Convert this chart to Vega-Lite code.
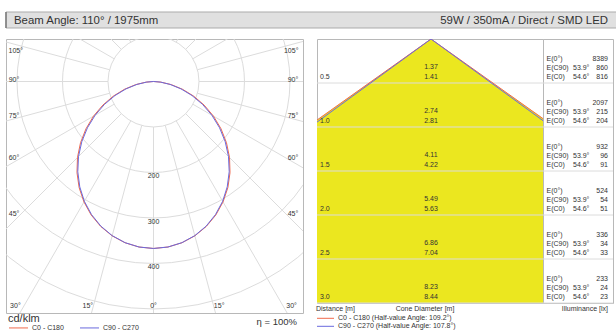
{
  "$schema": "https://vega.github.io/schema/vega-lite/v6.json",
  "background": "white",
  "padding": {"left": 5, "top": 11, "right": 0, "bottom": 0},
  "bounds": "flush",
  "spacing": 11,
  "resolve": {"scale": {"color": "independent"}, "legend": {"color": "independent"}},
  "config": {
    "view": {"stroke": "#b8b8b8", "strokeWidth": 1},
    "axis": {"disable": true},
    "text": {"font": "Liberation Sans", "fontSize": 7, "color": "#333333"},
    "legend": {"labelFont": "Liberation Sans", "titleFont": "Liberation Sans", "labelColor": "#333333", "titleColor": "#333333", "padding": 0, "offset": 0}
  },
  "datasets": {
    "rings": [{"r": 100}, {"r": 200}, {"r": 300}, {"r": 400}, {"r": 500}],
    "spokes": [{"a": -165}, {"a": -150}, {"a": -135}, {"a": -120}, {"a": -105}, {"a": -90}, {"a": -75}, {"a": -60}, {"a": -45}, {"a": -30}, {"a": -15}, {"a": 0}, {"a": 15}, {"a": 30}, {"a": 45}, {"a": 60}, {"a": 75}, {"a": 90}, {"a": 105}, {"a": 120}, {"a": 135}, {"a": 150}, {"a": 165}, {"a": 180}],
    "radlab": [{"r": 200}, {"r": 300}, {"r": 400}],
    "anglab": [
      {"t": "105°", "a": -102.5, "r": 310}, {"t": "90°", "a": -90.5, "r": 306.6}, {"t": "75°", "a": -76.1, "r": 315.8}, {"t": "60°", "a": -61.4, "r": 349.3}, {"t": "45°", "a": -46.4, "r": 423.3}, {"t": "30°", "a": -31.6, "r": 579.2}, {"t": "15°", "a": -16.3, "r": 514.2}, {"t": "0°", "a": 0, "r": 493.4},
      {"t": "15°", "a": 16.3, "r": 514.2}, {"t": "30°", "a": 31.6, "r": 579.2}, {"t": "45°", "a": 46.4, "r": 423.3}, {"t": "60°", "a": 61.4, "r": 349.3}, {"t": "75°", "a": 76.1, "r": 315.8}, {"t": "90°", "a": 90.5, "r": 306.6}, {"t": "105°", "a": 102.5, "r": 310}
    ],
    "ldc": [
      {"g": -90, "c0": 0, "c90": 0}, {"g": -85, "c0": 16.6, "c90": 15.0}, {"g": -80, "c0": 39.7, "c90": 37.0}, {"g": -75, "c0": 66.0, "c90": 62.5}, {"g": -70, "c0": 93.9, "c90": 90.0}, {"g": -65, "c0": 122.9, "c90": 118.8}, {"g": -60, "c0": 152.2, "c90": 148.0}, {"g": -55, "c0": 181.2, "c90": 177.2}, {"g": -50, "c0": 209.4, "c90": 205.7}, {"g": -45, "c0": 236.3, "c90": 233.1}, {"g": -40, "c0": 261.6, "c90": 258.9}, {"g": -35, "c0": 284.9, "c90": 282.6}, {"g": -30, "c0": 305.7, "c90": 304.0}, {"g": -25, "c0": 323.9, "c90": 322.6}, {"g": -20, "c0": 339.1, "c90": 338.3}, {"g": -15, "c0": 351.2, "c90": 350.7}, {"g": -10, "c0": 359.9, "c90": 359.7}, {"g": -5, "c0": 365.2, "c90": 365.2},
      {"g": 0, "c0": 367, "c90": 367},
      {"g": 5, "c0": 365.2, "c90": 365.2}, {"g": 10, "c0": 359.9, "c90": 359.7}, {"g": 15, "c0": 351.2, "c90": 350.7}, {"g": 20, "c0": 339.1, "c90": 338.3}, {"g": 25, "c0": 323.9, "c90": 322.6}, {"g": 30, "c0": 305.7, "c90": 304.0}, {"g": 35, "c0": 284.9, "c90": 282.6}, {"g": 40, "c0": 261.6, "c90": 258.9}, {"g": 45, "c0": 236.3, "c90": 233.1}, {"g": 50, "c0": 209.4, "c90": 205.7}, {"g": 55, "c0": 181.2, "c90": 177.2}, {"g": 60, "c0": 152.2, "c90": 148.0}, {"g": 65, "c0": 122.9, "c90": 118.8}, {"g": 70, "c0": 93.9, "c90": 90.0}, {"g": 75, "c0": 66.0, "c90": 62.5}, {"g": 80, "c0": 39.7, "c90": 37.0}, {"g": 85, "c0": 16.6, "c90": 15.0}, {"g": 90, "c0": 0, "c90": 0}
    ],
    "cone": [
      {"d": 0.5, "c90": 1.37, "c0": 1.41, "e0": 8389, "e90": 860, "ec0": 816},
      {"d": 1.0, "c90": 2.74, "c0": 2.81, "e0": 2097, "e90": 215, "ec0": 204},
      {"d": 1.5, "c90": 4.11, "c0": 4.22, "e0": 932, "e90": 96, "ec0": 91},
      {"d": 2.0, "c90": 5.49, "c0": 5.63, "e0": 524, "e90": 54, "ec0": 51},
      {"d": 2.5, "c90": 6.86, "c0": 7.04, "e0": 336, "e90": 34, "ec0": 33},
      {"d": 3.0, "c90": 8.23, "c0": 8.44, "e0": 233, "e90": 24, "ec0": 23}
    ],
    "edges": [
      {"s": "c0", "x": -4.22, "d": 3}, {"s": "c0", "x": 0, "d": 0}, {"s": "c0", "x": 4.22, "d": 3},
      {"s": "c90", "x": -4.115, "d": 3}, {"s": "c90", "x": 0, "d": 0}, {"s": "c90", "x": 4.115, "d": 3}
    ]
  },
  "vconcat": [
    {
      "width": 611,
      "height": 16,
      "view": {"stroke": null},
      "data": {"values": [{"left": "Beam Angle: 110° / 1975mm", "right": "59W / 350mA / Direct /  SMD LED"}]},
      "layer": [
        {
          "mark": {"type": "rect", "fill": "#e0e0e0", "stroke": "#ababab", "strokeWidth": 1},
          "encoding": {
            "x": {"datum": 0, "type": "quantitative", "scale": {"domain": [0, 1], "nice": false, "zero": false}},
            "x2": {"datum": 1},
            "y": {"datum": 0, "type": "quantitative", "scale": {"domain": [0, 1], "nice": false, "zero": false}},
            "y2": {"datum": 1}
          }
        },
        {
          "mark": {"type": "rule", "color": "#7a7a7a", "strokeWidth": 1.5},
          "encoding": {"x": {"datum": 0, "type": "quantitative"}, "y": {"datum": 0, "type": "quantitative"}, "y2": {"datum": 1}}
        },
        {
          "mark": {"type": "text", "align": "left", "dx": 8, "dy": 0.5, "fontSize": 11.4, "color": "#333333"},
          "encoding": {"x": {"datum": 0, "type": "quantitative"}, "y": {"datum": 0.5, "type": "quantitative"}, "text": {"field": "left"}}
        },
        {
          "mark": {"type": "text", "align": "right", "dx": -9, "dy": 0.5, "fontSize": 11.4, "color": "#333333"},
          "encoding": {"x": {"datum": 1, "type": "quantitative"}, "y": {"datum": 0.5, "type": "quantitative"}, "text": {"field": "right"}}
        }
      ]
    },
    {
      "hconcat": [
        {
          "width": 297,
          "height": 274,
          "layer": [
            {
              "data": {"name": "rings"},
              "mark": {"type": "point", "shape": "circle", "filled": false, "color": "#dcdcdc", "strokeWidth": 1, "opacity": 1, "clip": true},
              "encoding": {
                "x": {"datum": 0, "type": "quantitative", "scale": {"domain": [-324.2, 328.6], "nice": false, "zero": false}},
                "y": {"datum": 0, "type": "quantitative", "scale": {"domain": [-93.4, 508.8], "nice": false, "zero": false, "reverse": true}},
                "size": {"field": "r", "type": "quantitative", "scale": {"type": "pow", "exponent": 2, "domain": [0, 100], "range": [0, 8281]}, "legend": null}
              }
            },
            {
              "data": {"name": "spokes"},
              "transform": [
                {"calculate": "100*sin(datum.a*PI/180)", "as": "x1"},
                {"calculate": "100*cos(datum.a*PI/180)", "as": "y1"},
                {"calculate": "900*sin(datum.a*PI/180)", "as": "x2"},
                {"calculate": "900*cos(datum.a*PI/180)", "as": "y2"}
              ],
              "mark": {"type": "rule", "color": "#dcdcdc", "strokeWidth": 1, "clip": true},
              "encoding": {
                "x": {"field": "x1", "type": "quantitative"},
                "y": {"field": "y1", "type": "quantitative"},
                "x2": {"field": "x2"},
                "y2": {"field": "y2"}
              }
            },
            {
              "data": {"name": "ldc"},
              "transform": [
                {"fold": ["c0", "c90"], "as": ["s", "i"]},
                {"calculate": "datum.i*sin(datum.g*PI/180)", "as": "px"},
                {"calculate": "datum.i*cos(datum.g*PI/180)", "as": "py"}
              ],
              "mark": {"type": "line", "strokeWidth": 1, "clip": true},
              "encoding": {
                "x": {"field": "px", "type": "quantitative"},
                "y": {"field": "py", "type": "quantitative"},
                "order": {"field": "g", "type": "quantitative"},
                "color": {
                  "field": "s", "type": "nominal",
                  "scale": {"domain": ["c0", "c90"], "range": ["#f0694c", "#6a6ade"]},
                  "legend": {
                    "orient": "none", "legendX": 9, "legendY": 285.2, "direction": "horizontal",
                    "title": null,
                    "symbolType": "M-4.75,0L4.75,0", "symbolSize": 16, "symbolStrokeWidth": 1,
                    "labelFontSize": 7, "labelOffset": 10, "columnPadding": 14,
                    "labelExpr": "datum.label == 'c0' ? 'C0 - C180' : 'C90 - C270'"
                  }
                }
              }
            },
            {
              "data": {"name": "radlab"},
              "mark": {"type": "text", "dy": 4},
              "encoding": {
                "x": {"datum": 0, "type": "quantitative"},
                "y": {"field": "r", "type": "quantitative"},
                "text": {"field": "r"}
              }
            },
            {
              "data": {"name": "anglab"},
              "transform": [
                {"calculate": "datum.r*sin(datum.a*PI/180)", "as": "lx"},
                {"calculate": "datum.r*cos(datum.a*PI/180)", "as": "ly"}
              ],
              "mark": {"type": "text"},
              "encoding": {
                "x": {"field": "lx", "type": "quantitative"},
                "y": {"field": "ly", "type": "quantitative"},
                "text": {"field": "t"}
              }
            },
            {
              "data": {"values": [{}]},
              "mark": {"type": "text", "align": "left", "dx": 2, "dy": 5.5, "fontSize": 11},
              "encoding": {
                "x": {"datum": -324.2, "type": "quantitative"},
                "y": {"datum": 508.8, "type": "quantitative"},
                "text": {"value": "cd/klm"}
              }
            },
            {
              "data": {"values": [{}]},
              "mark": {"type": "text", "align": "right", "dx": -6, "dy": 9, "fontSize": 9.5},
              "encoding": {
                "x": {"datum": 328.6, "type": "quantitative"},
                "y": {"datum": 508.8, "type": "quantitative"},
                "text": {"value": "η = 100%"}
              }
            }
          ]
        },
        {
          "hconcat": [
            {
              "width": 226,
              "height": 264,
              "layer": [
                {
                  "data": {"name": "edges"},
                  "transform": [{"filter": "datum.s == 'c0'"}],
                  "mark": {"type": "area", "color": "#ebe71f", "opacity": 1, "clip": true},
                  "encoding": {
                    "x": {"field": "x", "type": "quantitative", "scale": {"domain": [-1.2955, 1.2727], "nice": false, "zero": false}},
                    "y": {"field": "d", "type": "quantitative", "scale": {"domain": [0, 3], "nice": false, "zero": false, "reverse": true}},
                    "y2": {"datum": 3}
                  }
                },
                {
                  "data": {"name": "cone"},
                  "mark": {"type": "rule", "color": "#dcdcdc", "strokeWidth": 1},
                  "encoding": {"y": {"field": "d", "type": "quantitative"}}
                },
                {
                  "data": {"name": "edges"},
                  "mark": {"type": "line", "strokeWidth": 1, "clip": true},
                  "encoding": {
                    "x": {"field": "x", "type": "quantitative"},
                    "y": {"field": "d", "type": "quantitative"},
                    "color": {
                      "field": "s", "type": "nominal",
                      "scale": {"domain": ["c0", "c90"], "range": ["#f0694c", "#6a6ade"]},
                      "legend": {
                        "orient": "none", "legendX": 5, "legendY": 275.8, "direction": "vertical", "title": null,
                        "symbolType": "M-4.25,0L4.25,0", "symbolSize": 16, "symbolStrokeWidth": 1,
                        "labelFontSize": 7, "labelOffset": 9, "rowPadding": 0,
                        "labelExpr": "datum.label == 'c0' ? 'C0 - C180 (Half-value Angle: 109.2°)' : 'C90 - C270 (Half-value Angle: 107.8°)'"
                      }
                    }
                  }
                },
                {
                  "data": {"name": "cone"},
                  "mark": {"type": "text", "align": "left", "dx": 3, "dy": -5.7},
                  "encoding": {
                    "x": {"datum": -1.2955, "type": "quantitative"},
                    "y": {"field": "d", "type": "quantitative"},
                    "text": {"field": "d", "format": ".1f"}
                  }
                },
                {
                  "data": {"name": "cone"},
                  "mark": {"type": "text", "dy": -15.7},
                  "encoding": {
                    "x": {"datum": 0, "type": "quantitative"},
                    "y": {"field": "d", "type": "quantitative"},
                    "text": {"field": "c90", "format": ".2f"}
                  }
                },
                {
                  "data": {"name": "cone"},
                  "mark": {"type": "text", "dy": -5.7},
                  "encoding": {
                    "x": {"datum": 0, "type": "quantitative"},
                    "y": {"field": "d", "type": "quantitative"},
                    "text": {"field": "c0", "format": ".2f"}
                  }
                },
                {
                  "data": {"values": [{}]},
                  "mark": {"type": "text", "align": "left", "dx": -1, "dy": 6},
                  "encoding": {
                    "x": {"datum": -1.2955, "type": "quantitative"},
                    "y": {"datum": 3, "type": "quantitative"},
                    "text": {"value": "Distance [m]"}
                  }
                },
                {
                  "data": {"values": [{}]},
                  "mark": {"type": "text", "dx": -6, "dy": 6},
                  "encoding": {
                    "x": {"datum": 0, "type": "quantitative"},
                    "y": {"datum": 3, "type": "quantitative"},
                    "text": {"value": "Cone Diameter [m]"}
                  }
                }
              ]
            },
            {
              "width": 70,
              "height": 264,
              "data": {"name": "cone"},
              "layer": [
                {
                  "mark": {"type": "rule", "color": "#dcdcdc", "strokeWidth": 1},
                  "encoding": {"y": {"field": "d", "type": "quantitative", "scale": {"domain": [0, 3], "nice": false, "zero": false, "reverse": true}}}
                },
                {
                  "mark": {"type": "text", "align": "left", "dx": 3.5, "dy": -24.5},
                  "encoding": {
                    "x": {"datum": 0, "type": "quantitative", "scale": {"domain": [0, 1], "nice": false, "zero": false}},
                    "y": {"field": "d", "type": "quantitative"},
                    "text": {"value": "E(0°)"}
                  }
                },
                {
                  "mark": {"type": "text", "align": "left", "dx": 3.5, "dy": -15},
                  "encoding": {"x": {"datum": 0, "type": "quantitative"}, "y": {"field": "d", "type": "quantitative"}, "text": {"value": "E(C90)"}}
                },
                {
                  "mark": {"type": "text", "align": "left", "dx": 3.5, "dy": -6},
                  "encoding": {"x": {"datum": 0, "type": "quantitative"}, "y": {"field": "d", "type": "quantitative"}, "text": {"value": "E(C0)"}}
                },
                {
                  "mark": {"type": "text", "align": "left", "dx": 30, "dy": -15},
                  "encoding": {"x": {"datum": 0, "type": "quantitative"}, "y": {"field": "d", "type": "quantitative"}, "text": {"value": "53.9°"}}
                },
                {
                  "mark": {"type": "text", "align": "left", "dx": 30, "dy": -6},
                  "encoding": {"x": {"datum": 0, "type": "quantitative"}, "y": {"field": "d", "type": "quantitative"}, "text": {"value": "54.6°"}}
                },
                {
                  "mark": {"type": "text", "align": "right", "dx": -5, "dy": -24.5},
                  "encoding": {"x": {"datum": 1, "type": "quantitative"}, "y": {"field": "d", "type": "quantitative"}, "text": {"field": "e0"}}
                },
                {
                  "mark": {"type": "text", "align": "right", "dx": -5, "dy": -15},
                  "encoding": {"x": {"datum": 1, "type": "quantitative"}, "y": {"field": "d", "type": "quantitative"}, "text": {"field": "e90"}}
                },
                {
                  "mark": {"type": "text", "align": "right", "dx": -5, "dy": -6},
                  "encoding": {"x": {"datum": 1, "type": "quantitative"}, "y": {"field": "d", "type": "quantitative"}, "text": {"field": "ec0"}}
                },
                {
                  "data": {"values": [{}]},
                  "mark": {"type": "text", "align": "right", "dx": -5, "dy": 6},
                  "encoding": {"x": {"datum": 1, "type": "quantitative"}, "y": {"datum": 3, "type": "quantitative"}, "text": {"value": "Illuminance [lx]"}}
                }
              ]
            }
          ],
          "spacing": 0,
          "bounds": "flush"
        }
      ],
      "spacing": 14,
      "bounds": "flush",
      "resolve": {"scale": {"color": "independent"}, "legend": {"color": "independent"}}
    }
  ]
}
